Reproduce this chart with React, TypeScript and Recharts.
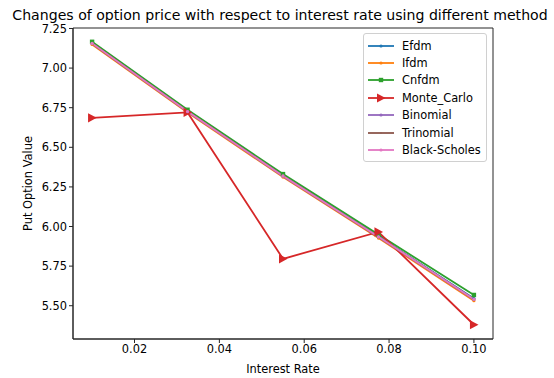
import React from 'react';
import { LineChart, Line, XAxis, YAxis, ReferenceArea } from 'recharts';

// Interest rates sampled for the put option pricing comparison
const rates = [0.01, 0.0325, 0.055, 0.0775, 0.1];

// Put option value computed by each pricing method
const efdm = [7.158, 6.728, 6.322, 5.938, 5.545];
const ifdm = [7.149, 6.719, 6.312, 5.927, 5.532];
const cnfdm = [7.166, 6.737, 6.331, 5.949, 5.568];
const monteCarlo = [6.686, 6.72, 5.796, 5.966, 5.38];
const binomial = [7.155, 6.725, 6.318, 5.934, 5.54];
const trinomial = [7.155, 6.726, 6.319, 5.934, 5.541];
const blackScholes = [7.156, 6.726, 6.319, 5.935, 5.541];

const xTicks = [0.02, 0.04, 0.06, 0.08, 0.1];
const yTicks = [5.5, 5.75, 6.0, 6.25, 6.5, 6.75, 7.0, 7.25];

const X_DOMAIN: [number, number] = [0.0055, 0.1045];
const Y_DOMAIN: [number, number] = [5.29, 7.253];

const FONT = 'DejaVu Sans, sans-serif';
const FONT_SIZE = 11.4;
const AXIS = '#262626';

type Marker = 'point' | 'square' | 'triangle' | 'pixel';

const seriesDefs: { key: string; name: string; color: string; marker: Marker; values: number[] }[] = [
  { key: 'efdm', name: 'Efdm', color: '#1f77b4', marker: 'point', values: efdm },
  { key: 'ifdm', name: 'Ifdm', color: '#ff7f0e', marker: 'point', values: ifdm },
  { key: 'cnfdm', name: 'Cnfdm', color: '#2ca02c', marker: 'square', values: cnfdm },
  { key: 'mc', name: 'Monte_Carlo', color: '#d62728', marker: 'triangle', values: monteCarlo },
  { key: 'binomial', name: 'Binomial', color: '#9467bd', marker: 'point', values: binomial },
  { key: 'trinomial', name: 'Trinomial', color: '#8c564b', marker: 'pixel', values: trinomial },
  { key: 'bs', name: 'Black-Scholes', color: '#e377c2', marker: 'point', values: blackScholes },
];

const data = rates.map((r, i) => {
  const row: Record<string, number> = { rate: r };
  seriesDefs.forEach((s) => {
    row[s.key] = s.values[i];
  });
  return row;
});

function markerShape(marker: Marker, cx: number, cy: number, color: string, key?: string) {
  if (marker === 'square') {
    return <rect key={key} x={cx - 2.2} y={cy - 2.2} width={4.4} height={4.4} fill={color} />;
  }
  if (marker === 'triangle') {
    return (
      <polygon
        key={key}
        points={`${cx - 4},${cy - 4.6} ${cx - 4},${cy + 4.6} ${cx + 4.6},${cy}`}
        fill={color}
      />
    );
  }
  if (marker === 'pixel') {
    return <rect key={key} x={cx - 0.5} y={cy - 0.5} width={1} height={1} fill={color} />;
  }
  return <circle key={key} cx={cx} cy={cy} r={1.6} fill={color} />;
}

const makeDot = (marker: Marker, color: string) => (props: any) => {
  const { cx, cy, index } = props;
  if (cx == null || cy == null) return <g key={`d-${index}`} />;
  return markerShape(marker, cx, cy, color, `d-${index}`);
};

const LegendBox = () => (
  <div
    style={{
      position: 'absolute',
      left: 363,
      top: 33,
      boxSizing: 'border-box',
      width: 124,
      border: '1px solid #d0d0d0',
      borderRadius: 3,
      background: 'rgba(255,255,255,0.8)',
      padding: '3px 4px 2px 4px',
      fontFamily: FONT,
      fontSize: FONT_SIZE,
      color: '#000',
    }}
  >
    {seriesDefs.map((s) => (
      <div key={s.key} style={{ display: 'flex', alignItems: 'center', height: 17.4, whiteSpace: 'nowrap' }}>
        <svg width={26} height={10} style={{ marginRight: 8, overflow: 'visible' }}>
          <line x1={0} y1={5} x2={26} y2={5} stroke={s.color} strokeWidth={1.8} />
          {markerShape(s.marker, 13, 5, s.color)}
        </svg>
        <span>{s.name}</span>
      </div>
    ))}
  </div>
);

const YLabel = (props: any) => {
  const { viewBox } = props;
  const x = viewBox.x + 32;
  const y = viewBox.y + viewBox.height / 2;
  return (
    <text
      x={x}
      y={y}
      transform={`rotate(-90, ${x}, ${y})`}
      textAnchor="middle"
      fontFamily={FONT}
      fontSize={FONT_SIZE}
      fill="#000"
    >
      Put Option Value
    </text>
  );
};

const XLabel = (props: any) => {
  const { viewBox } = props;
  return (
    <text
      x={viewBox.x + viewBox.width / 2}
      y={viewBox.y + 34}
      textAnchor="middle"
      fontFamily={FONT}
      fontSize={FONT_SIZE}
      fill="#000"
    >
      Interest Rate
    </text>
  );
};

export default function App() {
  return (
    <div style={{ position: 'absolute', left: 0, top: 0, width: 554, height: 378, background: '#fff' }}>
      <LineChart
        width={554}
        height={378}
        data={data}
        margin={{ top: 28, right: 61, left: 0, bottom: 0 }}
      >
        <text
          x={280}
          y={20}
          textAnchor="middle"
          fontFamily={FONT}
          fontSize={14.1}
          fill="#000"
        >
          Changes of option price with respect to interest rate using different method
        </text>
        <XAxis
          dataKey="rate"
          type="number"
          domain={X_DOMAIN}
          ticks={xTicks}
          tickFormatter={(v: number) => v.toFixed(2)}
          height={39}
          allowDataOverflow
          stroke={AXIS}
          tickLine={{ stroke: AXIS }}
          tickSize={4}
          tick={{ fill: '#000', fontFamily: FONT, fontSize: FONT_SIZE }}
          label={<XLabel />}
        />
        <YAxis
          type="number"
          domain={Y_DOMAIN}
          ticks={yTicks}
          tickFormatter={(v: number) => v.toFixed(2)}
          width={73}
          allowDataOverflow
          stroke={AXIS}
          tickLine={{ stroke: AXIS }}
          tickSize={4}
          tick={{ fill: '#000', fontFamily: FONT, fontSize: FONT_SIZE }}
          label={<YLabel />}
        />
        {/* frame around the plotting area */}
        <ReferenceArea
          x1={X_DOMAIN[0]}
          x2={X_DOMAIN[1]}
          y1={Y_DOMAIN[0]}
          y2={Y_DOMAIN[1]}
          fill="none"
          fillOpacity={0}
          stroke={AXIS}
          strokeWidth={1}
          ifOverflow="visible"
        />
        {seriesDefs.map((s) => (
          <Line
            key={s.key}
            dataKey={s.key}
            name={s.name}
            type="linear"
            stroke={s.color}
            strokeWidth={1.8}
            dot={makeDot(s.marker, s.color)}
            activeDot={false}
            isAnimationActive={false}
          />
        ))}
      </LineChart>
      <LegendBox />
    </div>
  );
}
